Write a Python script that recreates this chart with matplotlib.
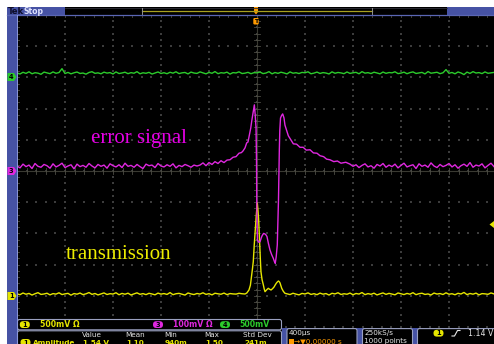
import numpy as np
import matplotlib
matplotlib.use('Agg')
import matplotlib.pyplot as plt
from matplotlib.patches import Rectangle, FancyBboxPatch, Polygon

# ---------------- data (time in microseconds, amplitude in mV) ----------------
green_t = np.arange(-2000, 1976, 25)
green_mv = [70, 55, 82, 64, 90, 58, 75, 68, 50, 85, 72, 60, 88, 66, 78, 140, 62, 80, 57, 74,
            86, 63, 70, 52, 79, 91, 65, 73, 58, 84, 69, 77, 55, 88, 62, 71, 83, 60, 76, 67,
            92, 58, 74, 66, 81, 54, 70, 87, 63, 75, 59, 82, 68, 90, 61, 73, 79, 56, 85, 70,
            64, 88, 72, 57, 80, 66, 93, 60, 75, 69, 84, 53, 77, 71, 89, 62, 68, 81, 59, 76,
            73, 86, 61, 70, 92, 57, 78, 65, 83, 71, 56, 88, 67, 75, 62, 80, 74, 90, 58, 69,
            85, 63, 77, 70, 55, 89, 66, 79, 72, 60, 87, 64, 74, 81, 58, 92, 68, 76, 62, 83,
            71, 57, 86, 65, 78, 73, 90, 61, 69, 84, 59, 77, 88, 63, 72, 80, 56, 93, 67, 75,
            82, 60, 74, 125, 66, 79, 58, 87, 71, 45, 85, 64, 92, 70, 77, 61, 88, 66, 73, 80]

mag_left_t = np.arange(-2000, -499, 25)
mag_left_mv = [16, 10, 22, 14, 19, 8, 24, 15, 12, 21, 17, 9, 23, 13, 18, 25, 11, 16, 20, 7,
               22, 14, 18, 12, 24, 16, 10, 21, 15, 19, 9, 23, 17, 13, 20, 11, 25, 15, 18, 12,
               21, 14, 8, 22, 17, 19, 11, 24, 16, 13, 20, 15, 23, 10, 18, 14, 21, 17, 12, 19,
               16]
mag_peak_t = [-475, -450, -425, -400, -375, -350, -325, -300, -275, -250, -225, -200, -175,
              -150, -130, -117, -100, -86, -75, -62, -52, -44, -36, -28, -22,
              -15, -8, -4, -2, 1, 4, 12, 25, 35, 42, 55, 67, 75, 83, 95, 108, 122, 136,
              145, 152, 160, 169, 175, 179, 183, 186, 190, 196, 205, 214, 220, 225, 233,
              245, 261, 280, 303, 330, 358, 385, 410, 442, 470, 500, 525, 555, 580, 608,
              640, 670, 700, 740, 775]
mag_peak_mv = [19, 26, 17, 27, 21, 30, 24, 33, 27, 35, 36, 44, 46, 57, 59, 64, 74, 90, 93,
               118, 138, 160, 179, 198, 212,
               180, 138, 30, -93, -180, -221, -228, -227, -215, -208, -200, -202, -205,
               -210, -232, -253, -268, -280, -290, -296, -275, -237, -150, -93, 0, 67, 130,
               170, 178, 183, 176, 170, 147, 132, 113, 101, 87, 86, 76, 76, 67, 68, 58, 57,
               49, 46, 38, 36, 30, 32, 25, 28, 22]
mag_right_t = np.arange(800, 1976, 25)
mag_right_mv = [15, 20, 11, 18, 23, 13, 17, 9, 21, 16, 24, 12, 19, 14, 22, 10, 18, 25, 13, 17,
                20, 8, 23, 15, 19, 12, 26, 16, 11, 21, 14, 18, 24, 13, 20, 9, 17, 22, 15, 27,
                12, 19, 16, 23, 10, 18, 25, 14]

yel_left_t = np.arange(-2000, -124, 25)
yel_left_mv = [30, 18, 45, 25, 38, 12, 33, 50, 22, 29, 41, 15, 35, 27, 48, 20, 31, 39, 10, 36,
               26, 44, 19, 32, 52, 23, 37, 14, 30, 46, 21, 34, 28, 49, 17, 38, 25, 42, 13, 31,
               47, 24, 35, 19, 40, 29, 16, 43, 27, 36, 22, 51, 18, 33, 39, 26, 12, 45, 30, 20,
               37, 28, 48, 23, 34, 15, 41, 32, 25, 44, 19, 36, 30, 27, 40, 33]
yel_peak_t = [-100, -85, -67, -55, -44, -38, -31, -23, -17, -11, -5, 2.5, 8, 13, 17, 21, 25,
              29, 33, 42, 53, 60, 67, 80, 94, 105, 117, 130, 142, 152, 162, 171, 179, 186,
              192, 199, 206, 220, 233]
yel_peak_mv = [29, 45, 93, 170, 333, 430, 547, 814, 980, 1135, 1320, 1488, 1375, 1240, 1087,
               900, 707, 540, 386, 260, 173, 110, 66, 95, 120, 105, 93, 115, 141, 175, 205,
               225, 237, 225, 205, 160, 120, 70, 40]
yel_right_t = np.arange(250, 1976, 25)
yel_right_mv = [32, 20, 41, 27, 15, 38, 29, 47, 22, 34, 18, 43, 26, 36, 12, 40, 30, 49, 21, 33,
                25, 44, 17, 37, 28, 52, 19, 35, 24, 42, 14, 31, 46, 23, 39, 27, 16, 45, 32, 20,
                38, 26, 50, 18, 34, 41, 22, 30, 13, 44, 28, 36, 21, 48, 25, 33, 17, 40, 29, 54,
                19, 37, 26, 43, 15, 35, 31, 24, 46, 30]

# channel settings: (mV/div, ground position in divisions)
ch1_scale, ch1_pos = 500.0, -4.0
ch3_scale, ch3_pos = 100.0, 0.0
ch4_scale, ch4_pos = 500.0, 3.0

meas_headers = ["Value", "Mean", "Min", "Max", "Std Dev"]
meas_values = ["1.54 V", "1.10", "940m", "1.50", "241m"]

# ---------------- colours ----------------
YEL = '#e6e600'
MAG = '#e028e0'
GRN = '#2ccc2c'
BLUE = '#4652a4'
ORANGE = '#ff9a00'
GRIDC = '#3c3c3c'

W, H = 494, 344
fig = plt.figure(figsize=(W / 100, H / 100), dpi=100, facecolor='white')


def px_axes(z):
    a = fig.add_axes([0, 0, 1, 1], zorder=z)
    a.set_xlim(0, W)
    a.set_ylim(H, 0)
    a.axis('off')
    a.patch.set_alpha(0)
    return a


bg = px_axes(0)
bg.add_patch(Rectangle((7, 7), W - 7, H - 7, facecolor='black', edgecolor='none'))

# ---------------- scope graticule axes ----------------
x0, x1, y0, y1 = 17, 494, 15, 327
ax = fig.add_axes([x0 / W, (H - y1) / H, (x1 - x0) / W, (y1 - y0) / H], zorder=1)
ax.set_xlim(-2000, 1975)
ax.set_ylim(-5, 5)
ax.axis('off')
ax.patch.set_alpha(0)

# dotted grid
vdiv = np.arange(-2000, 1976, 400)
hdiv = np.arange(-5, 6, 1)
sub_y = np.arange(-5, 5.01, 0.2)
sub_x = np.arange(-2000, 1976, 80)
gx, gy = np.meshgrid(vdiv, sub_y)
ax.scatter(gx.ravel(), gy.ravel(), s=0.8, marker='s', color=GRIDC, linewidths=0)
hx, hy = np.meshgrid(sub_x, hdiv)
ax.scatter(hx.ravel(), hy.ravel(), s=0.8, marker='s', color=GRIDC, linewidths=0)
# centre lines with minor ticks
ax.axhline(0, color='#3a3a32', lw=0.8)
ax.axvline(0, color='#3a3a32', lw=0.8)
for tx in sub_x:
    ax.plot([tx, tx], [-0.09, 0.09], color='#4c4c44', lw=0.6)
    ax.plot([tx, tx], [5, 4.92], color='#4c4c44', lw=0.6)
for ty in sub_y:
    ax.plot([-22, 22], [ty, ty], color='#4c4c44', lw=0.6)
    ax.plot([-2000, -1980], [ty, ty], color='#4c4c44', lw=0.6)

# traces
yel_t = np.concatenate([yel_left_t, yel_peak_t, yel_right_t])
yel_mv = np.concatenate([yel_left_mv, yel_peak_mv, yel_right_mv])
mag_t = np.concatenate([mag_left_t, mag_peak_t, mag_right_t])
mag_mv = np.concatenate([mag_left_mv, mag_peak_mv, mag_right_mv])
ax.plot(yel_t, ch1_pos + yel_mv / ch1_scale, color=YEL, lw=1.0)
ax.plot(mag_t, ch3_pos + mag_mv / ch3_scale, color=MAG, lw=1.0)
ax.plot(green_t, ch4_pos + np.array(green_mv) / ch4_scale, color=GRN, lw=1.0)

# ---------------- foreground decorations ----------------
fg = px_axes(2)

fg.text(91, 143, 'error signal', color='#e600e6', fontsize=15,
        family='Liberation Serif', va='baseline', ha='left')
fg.text(66, 259, 'transmission', color='#ecec00', fontsize=15,
        family='Liberation Serif', va='baseline', ha='left')

# top bar
fg.add_patch(Rectangle((7, 7), 58, 7.5, facecolor=BLUE, edgecolor='none'))
fg.add_patch(Rectangle((447, 7), 47, 7.5, facecolor=BLUE, edgecolor='none'))
fg.text(8, 11.2, 'Tek', color='#0c0c28', fontsize=6, weight='bold', va='center')
fg.text(23, 11.2, 'Stop', color='#dfe3ff', fontsize=5.6, weight='bold', va='center')
fg.plot([65, 447], [7.5, 7.5], color='#30303a', lw=0.6)
fg.plot([142, 372], [10.5, 10.5], color='#a8a020', lw=0.9)
fg.plot([142, 142], [7.5, 14], color='#909090', lw=0.7)
fg.plot([372, 372], [7.5, 14], color='#909090', lw=0.7)
fg.plot([7, 494], [14.8, 14.8], color='#5a66b4', lw=0.9)
# trigger position markers
fg.add_patch(Polygon([(254, 7), (258, 7), (258, 12), (256, 14.5), (254, 12)],
                     closed=True, facecolor=ORANGE, edgecolor='none'))
fg.add_patch(FancyBboxPatch((253.3, 18), 5.4, 6.5, boxstyle='round,pad=0,rounding_size=1.2',
                            facecolor=ORANGE, edgecolor='none'))
fg.text(256, 21.4, 'T', color='black', fontsize=4.5, weight='bold', ha='center', va='center')

# left strip
fg.add_patch(Rectangle((7, 15), 9.8, H - 15, facecolor=BLUE, edgecolor='none'))
fg.plot([16.9, 16.9], [15, H], color='#8c98dc', lw=0.7)

# channel ground markers
for yy, col, lab in [(77, GRN, '4'), (171, MAG, '3'), (296, YEL, '1')]:
    fg.add_patch(Polygon([(7.5, yy - 4), (14, yy - 4), (16.5, yy), (14, yy + 4), (7.5, yy + 4)],
                         closed=True, facecolor=col, edgecolor='none'))
    fg.text(11.3, yy + 0.3, lab, color='black', fontsize=4.8, weight='bold',
            ha='center', va='center')

# trigger level marker on right
fg.add_patch(Polygon([(494, 221), (489.5, 224.5), (494, 228)], closed=True,
                     facecolor=YEL, edgecolor='none'))

# bottom panels
fg.add_patch(Rectangle((282, 328), W - 282, H - 328, facecolor=BLUE, edgecolor='none'))
edge = '#9aa0c0'
fg.add_patch(FancyBboxPatch((17.5, 319.5), 264, 10.3, boxstyle='round,pad=0,rounding_size=2',
                            facecolor='black', edgecolor=edge, lw=0.8))
fg.add_patch(FancyBboxPatch((17.5, 330.8), 264, 20, boxstyle='round,pad=0,rounding_size=2',
                            facecolor='black', edgecolor=edge, lw=0.8))
for bx, bw in [(287, 70), (362.5, 50), (417.5, 80)]:
    fg.add_patch(FancyBboxPatch((bx, 328.6), bw, 20, boxstyle='round,pad=0,rounding_size=2',
                                facecolor='black', edgecolor=edge, lw=0.8))


def badge(x, y, col, lab):
    fg.add_patch(FancyBboxPatch((x - 5, y - 3.4), 10, 6.8,
                                boxstyle='round,pad=0,rounding_size=3.3',
                                facecolor=col, edgecolor='none'))
    fg.text(x, y + 0.2, lab, color='black', fontsize=4.8, weight='bold', ha='center', va='center')


FS = 5.6
badge(24.8, 324.6, YEL, '1')
fg.text(40, 324.8, '500mV Ω', color=YEL, fontsize=FS, weight='bold', va='center')
badge(158, 324.6, MAG, '3')
fg.text(173, 324.8, '100mV Ω', color=MAG, fontsize=FS, weight='bold', va='center')
badge(225, 324.6, GRN, '4')
fg.text(239, 324.8, '500mV', color=GRN, fontsize=FS, weight='bold', va='center')

FSM = 5.2
col_x = [82, 125, 164, 204, 243]
for cx, hd in zip(col_x, meas_headers):
    fg.text(cx, 335.0, hd, color='#e4e4e4', fontsize=FSM, va='center')
badge(25.5, 342.4, YEL, '1')
fg.text(33, 342.6, 'Amplitude', color=YEL, fontsize=FSM, weight='bold', va='center')
for cx, v in zip(col_x, meas_values):
    fg.text(cx + 1, 342.6, v, color=YEL, fontsize=FSM, weight='bold', va='center')

fg.text(289, 333.2, '400µs', color='#e8e8e8', fontsize=FSM, va='center')
fg.add_patch(Rectangle((289, 338.6), 4.5, 5.4, facecolor=ORANGE, edgecolor='none'))
fg.text(294, 341.4, '→▼0.00000 s', color=ORANGE, fontsize=FSM, va='center')
fg.text(364, 333.2, '250kS/s', color='#e8e8e8', fontsize=FSM, va='center')
fg.text(364, 341.4, '1000 points', color='#e8e8e8', fontsize=FSM, va='center')
badge(438.5, 333.2, YEL, '1')
fg.plot([452, 454.5, 457.5, 460], [336, 336, 330.5, 330.5], color='#e8e8e8', lw=0.8)
fg.text(468, 333.2, '1.14 V', color='#e8e8e8', fontsize=FS, va='center')

fig.savefig('out.png', dpi=100, facecolor='white')
